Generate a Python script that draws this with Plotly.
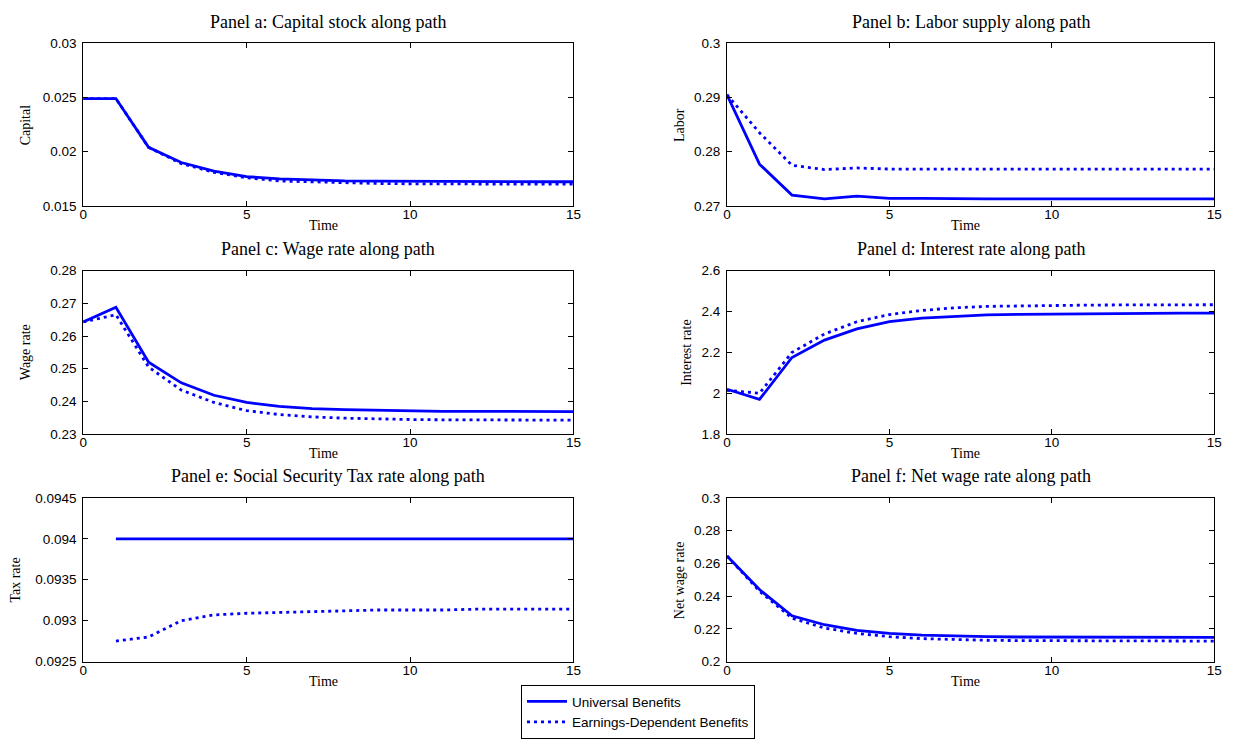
import plotly.graph_objects as go

# ---- data -------------------------------------------------------------
time = list(range(16))
time_tax = list(range(1, 16))

capital_univ = [0.0249, 0.0249, 0.0204, 0.0190, 0.0182, 0.0177, 0.0175, 0.0174,
                0.0173, 0.01728, 0.01726, 0.01725, 0.01724, 0.01723, 0.01723, 0.01723]
capital_earn = [0.0249, 0.0249, 0.0204, 0.0189, 0.0181, 0.0176, 0.0173, 0.0172,
                0.01712, 0.01707, 0.01704, 0.01702, 0.01701, 0.01700, 0.01700, 0.01700]

labor_univ = [0.2905, 0.2777, 0.2720, 0.2713, 0.2718, 0.2714, 0.2714, 0.2713,
              0.2713, 0.2713, 0.2713, 0.2713, 0.2713, 0.2713, 0.2713, 0.2713]
labor_earn = [0.2905, 0.2835, 0.2775, 0.2767, 0.2770, 0.2768, 0.2768, 0.2768,
              0.2768, 0.2768, 0.2768, 0.2768, 0.2768, 0.2768, 0.2768, 0.2768]

wage_univ = [0.2643, 0.2688, 0.2520, 0.2457, 0.2419, 0.2397, 0.2385, 0.2378,
             0.2375, 0.2373, 0.2371, 0.2370, 0.2370, 0.2369, 0.2369, 0.2369]
wage_earn = [0.2643, 0.2665, 0.2505, 0.2435, 0.2397, 0.2372, 0.2360, 0.2353,
             0.2349, 0.2346, 0.2345, 0.2344, 0.2344, 0.2343, 0.2343, 0.2343]

interest_univ = [2.020, 1.970, 2.175, 2.260, 2.315, 2.350, 2.368, 2.377,
                 2.383, 2.386, 2.388, 2.390, 2.391, 2.391, 2.392, 2.392]
interest_earn = [2.015, 2.000, 2.200, 2.290, 2.350, 2.385, 2.405, 2.418,
                 2.425, 2.428, 2.430, 2.431, 2.432, 2.433, 2.433, 2.433]

tax_univ = [0.0940] * 15
tax_earn = [0.09275, 0.09280, 0.09300, 0.09307, 0.09309, 0.09310, 0.09311,
            0.09312, 0.09313, 0.09313, 0.09313, 0.09314, 0.09314, 0.09314, 0.09314]

netwage_univ = [0.2645, 0.2440, 0.2280, 0.2225, 0.2190, 0.2172, 0.2162, 0.2155,
                0.2152, 0.2150, 0.2149, 0.2148, 0.2148, 0.2148, 0.2148, 0.2148]
netwage_earn = [0.2645, 0.2430, 0.2265, 0.2205, 0.2172, 0.2152, 0.2140, 0.2133,
                0.2130, 0.2128, 0.2127, 0.2126, 0.2125, 0.2125, 0.2125, 0.2125]

x_ticks = [0, 5, 10, 15]

panel_titles = [
    "Panel a: Capital stock along path",
    "Panel b: Labor supply along path",
    "Panel c: Wage rate along path",
    "Panel d: Interest rate along path",
    "Panel e: Social Security Tax rate along path",
    "Panel f: Net wage rate along path",
]
y_titles = ["Capital", "Labor", "Wage rate", "Interest rate", "Tax rate", "Net wage rate"]
y_ticks = [
    [0.015, 0.02, 0.025, 0.03],
    [0.27, 0.28, 0.29, 0.3],
    [0.23, 0.24, 0.25, 0.26, 0.27, 0.28],
    [1.8, 2.0, 2.2, 2.4, 2.6],
    [0.0925, 0.093, 0.0935, 0.094, 0.0945],
    [0.2, 0.22, 0.24, 0.26, 0.28, 0.3],
]
y_tick_text = [
    ["0.015", "0.02", "0.025", "0.03"],
    ["0.27", "0.28", "0.29", "0.3"],
    ["0.23", "0.24", "0.25", "0.26", "0.27", "0.28"],
    ["1.8", "2", "2.2", "2.4", "2.6"],
    ["0.0925", "0.093", "0.0935", "0.094", "0.0945"],
    ["0.2", "0.22", "0.24", "0.26", "0.28", "0.3"],
]
series = [
    (time, capital_univ, capital_earn),
    (time, labor_univ, labor_earn),
    (time, wage_univ, wage_earn),
    (time, interest_univ, interest_earn),
    (time_tax, tax_univ, tax_earn),
    (time, netwage_univ, netwage_earn),
]
legend_names = ["Universal Benefits", "Earnings-Dependent Benefits"]

# ---- layout geometry (pixels in a 1251 x 745 canvas) -------------------
W, H = 1251, 745
col_px = [(80, 575), (730, 1222)]
row_px = [(37, 203), (269, 436), (501, 668)]
ylab_x = [22, 682]
ylab_x_override = {4: 12, 3: 689}

BLUE = "#0000FF"
SERIF = "Liberation Serif, Times New Roman, serif"
SANS = "Liberation Sans, Arial, sans-serif"

fig = go.Figure()
annotations = []

for i in range(6):
    r, c = divmod(i, 2)
    ax = "" if i == 0 else str(i + 1)
    xs, yu, ye = series[i]
    fig.add_trace(go.Scatter(
        x=xs, y=yu, mode="lines", name=legend_names[0],
        line=dict(color=BLUE, width=2.8),
        xaxis="x" + ax, yaxis="y" + ax, showlegend=(i == 0), legendrank=1))
    fig.add_trace(go.Scatter(
        x=xs, y=ye, mode="lines", name=legend_names[1],
        line=dict(color=BLUE, width=2.8, dash="3px,4px"),
        xaxis="x" + ax, yaxis="y" + ax, showlegend=(i == 0), legendrank=2))

    x0, x1 = col_px[c]
    yt, yb = row_px[r]
    common = dict(showline=True, linecolor="black", linewidth=1, mirror="allticks",
                  ticks="inside", ticklen=5, tickcolor="black", showgrid=False,
                  zeroline=False, tickfont=dict(family=SANS, size=13.5, color="black"))
    fig.layout["xaxis" + ax] = dict(
        domain=[x0 / W, x1 / W], anchor="y" + ax, range=[0, 15],
        tickvals=x_ticks, ticktext=[str(v) for v in x_ticks],
        ticklabelstandoff=-4, **common)
    fig.layout["yaxis" + ax] = dict(
        domain=[1 - yb / H, 1 - yt / H], anchor="x" + ax,
        range=[y_ticks[i][0], y_ticks[i][-1]],
        tickvals=y_ticks[i], ticktext=y_tick_text[i], ticklabelstandoff=3, **common)

    # panel title
    annotations.append(dict(
        text=panel_titles[i], x=(x0 + x1) / 2 / W, y=1 - (yt - 22) / H,
        xref="paper", yref="paper", showarrow=False, xanchor="center", yanchor="middle",
        font=dict(family=SERIF, size=18, color="black")))
    # x-axis label
    annotations.append(dict(
        text="Time", x=((x0 + x1) / 2 - 5) / W, y=1 - (yb + 20) / H,
        xref="paper", yref="paper", showarrow=False, xanchor="center", yanchor="middle",
        font=dict(family=SERIF, size=14, color="black")))
    # y-axis label
    lx = ylab_x_override.get(i, ylab_x[c])
    annotations.append(dict(
        text=y_titles[i], x=lx / W, y=1 - (yt + yb) / 2 / H, textangle=-90,
        xref="paper", yref="paper", showarrow=False, xanchor="center", yanchor="middle",
        font=dict(family=SERIF, size=14, color="black")))

fig.update_layout(
    width=W, height=H,
    margin=dict(l=0, r=0, t=0, b=0),
    paper_bgcolor="white", plot_bgcolor="white",
    annotations=annotations,
    legend=dict(
        x=522 / W, y=1 - 692 / H, xanchor="left", yanchor="top",
        bordercolor="black", borderwidth=1, bgcolor="white",
        font=dict(family=SANS, size=13.5, color="black"),
        tracegroupgap=0, itemwidth=40),
)

fig.write_html("out.html")
